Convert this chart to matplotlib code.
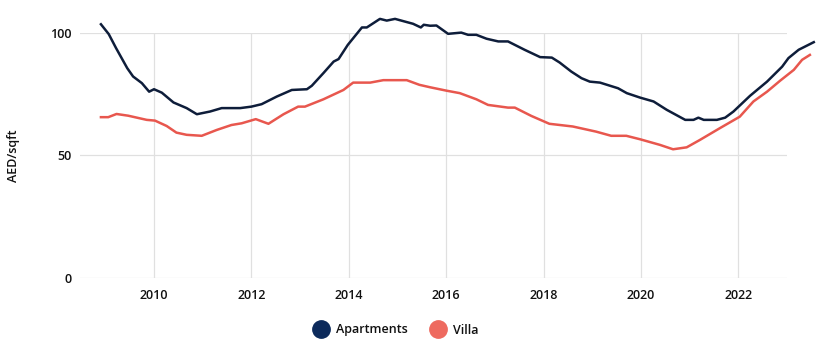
import matplotlib.pyplot as plt
from matplotlib.lines import Line2D

# values (decimal years, AED/sqft)
apt_years = [2008.91, 2009.07, 2009.22, 2009.45, 2009.57, 2009.75, 2009.90, 2010.0, 2010.16,
             2010.40, 2010.67, 2010.88, 2011.15, 2011.39, 2011.77, 2012.0, 2012.21, 2012.52,
             2012.83, 2013.14, 2013.24, 2013.48, 2013.69, 2013.79, 2013.98, 2014.27, 2014.37,
             2014.64, 2014.78, 2014.95, 2015.19, 2015.32, 2015.48, 2015.54, 2015.67, 2015.80,
             2016.04, 2016.31, 2016.45, 2016.62, 2016.83, 2017.07, 2017.27, 2017.61, 2017.93,
             2018.17, 2018.33, 2018.57, 2018.78, 2018.95, 2019.16, 2019.53, 2019.71, 2019.98,
             2020.26, 2020.53, 2020.91, 2021.08, 2021.18, 2021.29, 2021.56, 2021.73, 2021.90,
             2022.24, 2022.59, 2022.90, 2023.03, 2023.24, 2023.55]
apt_values = [103.5, 99.5, 93.8, 85.6, 82.2, 79.5, 76.0, 77.0, 75.6,
              71.6, 69.3, 66.8, 67.9, 69.3, 69.3, 69.9, 70.9, 74.0,
              76.7, 77.0, 78.4, 83.6, 88.3, 89.3, 95.1, 102.2, 102.2,
              105.7, 105.0, 105.7, 104.4, 103.7, 102.2, 103.3, 102.9, 103.0,
              99.6, 100.1, 99.2, 99.2, 97.6, 96.5, 96.5, 93.1, 90.1,
              89.9, 87.9, 84.2, 81.5, 80.1, 79.7, 77.4, 75.4, 73.6,
              72.0, 68.6, 64.5, 64.5, 65.4, 64.5, 64.5, 65.4, 67.9,
              74.3, 80.1, 86.2, 89.7, 93.1, 96.2]

villa_years = [2008.91, 2009.06, 2009.23, 2009.47, 2009.85, 2010.02, 2010.26, 2010.46, 2010.67,
               2010.98, 2011.29, 2011.59, 2011.80, 2012.09, 2012.35, 2012.66, 2012.96, 2013.10,
               2013.48, 2013.89, 2014.09, 2014.44, 2014.71, 2015.19, 2015.45, 2015.67, 2016.01,
               2016.28, 2016.62, 2016.86, 2017.27, 2017.41, 2017.75, 2018.12, 2018.60, 2019.08,
               2019.39, 2019.70, 2019.98, 2020.39, 2020.66, 2020.94, 2021.21, 2021.62, 2022.03,
               2022.31, 2022.59, 2022.86, 2023.14, 2023.31, 2023.47]
villa_values = [65.6, 65.6, 66.9, 66.2, 64.5, 64.2, 62.0, 59.3, 58.4,
                58.0, 60.4, 62.4, 63.1, 64.8, 62.9, 66.8, 69.9, 69.9,
                72.9, 76.7, 79.7, 79.7, 80.7, 80.7, 78.8, 77.8, 76.4,
                75.4, 72.9, 70.6, 69.5, 69.5, 66.1, 62.9, 61.8, 59.7,
                58.0, 58.0, 56.6, 54.3, 52.5, 53.3, 56.3, 61.1, 65.8,
                72.0, 76.0, 80.5, 84.9, 89.0, 91.0]

year_ticks = [2010, 2012, 2014, 2016, 2018, 2020, 2022]
value_ticks = [0, 50, 100]

plt.rcParams['font.family'] = ['Open Sans', 'DejaVu Sans']
plt.rcParams['font.weight'] = 'semibold'
plt.rcParams['axes.labelweight'] = 'semibold'

fig = plt.figure(figsize=(8.2, 3.61), dpi=100)
ax = fig.add_axes([80 / 820, 0.23, (787 - 80) / 820, 0.679])

apt_color = '#0e1d3a'
villa_color = '#e8574e'
ax.plot(apt_years, apt_values, color=apt_color, lw=1.8, clip_on=False, zorder=3)
ax.plot(villa_years, villa_values, color=villa_color, lw=1.8, clip_on=False, zorder=3)

ax.set_xlim(2008.48, 2023.0)
ax.set_ylim(0, 100)
ax.set_xticks(year_ticks)
ax.set_yticks(value_ticks)
ax.grid(True, color='#e0e0e0', lw=0.9)
ax.set_axisbelow(True)
for s in ax.spines.values():
    s.set_visible(False)
ax.tick_params(length=0, labelsize=9, colors='#111111')
ax.tick_params(axis='y', pad=6)
ax.tick_params(axis='x', pad=8)
ax.set_ylabel('AED/sqft', fontsize=9, color='#111111', labelpad=22, fontweight='semibold')

handles = [
    Line2D([], [], marker='o', ls='none', ms=12.5, color='#0c2a5b', label='Apartments'),
    Line2D([], [], marker='o', ls='none', ms=12.5, color='#ee6a5f', label='Villa'),
]
leg = fig.legend(handles=handles, loc='center', bbox_to_anchor=(0.48, 1 - 330 / 361), ncol=2,
                 frameon=False, fontsize=9, handletextpad=0.2, columnspacing=1.4)
for t in leg.get_texts():
    t.set_color('#111111')

fig.savefig('out.png', dpi=100)
